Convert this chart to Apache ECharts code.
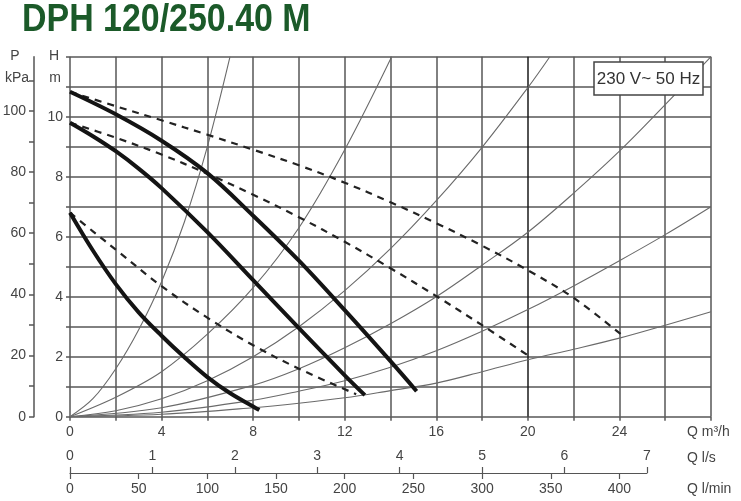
<!DOCTYPE html>
<html><head><meta charset="utf-8">
<script src="https://cdn.jsdelivr.net/npm/echarts@6.0.0/dist/echarts.min.js"></script>
<style>html,body{margin:0;padding:0;background:#fff}#c{width:741px;height:501px}</style>
</head><body><div id="c"></div>
<script>
// ---- pump curves (Q in m3/h, H in m) ----
const qSpeed3 = [0, 2, 4, 6, 8, 10, 12, 14, 15.14];
const hSpeed3 = [10.83, 10.08, 9.2, 8.12, 6.7, 5.2, 3.55, 1.85, 0.85];
const qSpeed2 = [0, 1, 2, 3, 4, 6, 8, 10, 12, 12.88];
const hSpeed2 = [9.8, 9.35, 8.85, 8.27, 7.62, 6.15, 4.55, 2.95, 1.38, 0.72];
const qSpeed1 = [0, 1, 2, 3, 4, 5, 6, 7, 8, 8.27];
const hSpeed1 = [6.8, 5.54, 4.42, 3.48, 2.7, 1.98, 1.32, 0.78, 0.34, 0.22];
// dashed curves
const qDash3 = [0, 2, 4, 6, 8, 10, 12, 14, 16, 18, 20, 22, 24.24];
const hDash3 = [10.83, 10.35, 9.88, 9.4, 8.9, 8.38, 7.8, 7.15, 6.45, 5.7, 4.88, 3.96, 2.64];
const qDash2 = [0, 2, 4, 6, 8, 10, 12, 14, 16, 18, 20.09];
const hDash2 = [9.8, 9.3, 8.74, 8.1, 7.4, 6.65, 5.83, 4.95, 4.02, 3.05, 2.0];
const qDash1 = [0, 1, 2, 4, 6, 8, 10, 12.5];
const hDash1 = [6.8, 6.18, 5.57, 4.35, 3.3, 2.38, 1.6, 0.75];
// system curves (thin)
const qSys1 = [0, 1, 2, 3, 4, 5, 6, 6.99];
const hSys1 = [0, 0.6, 1.6, 2.9, 4.5, 6.5, 9.0, 12];
const qSys2 = [0, 2, 4, 6, 8, 10, 12, 14.05];
const hSys2 = [0, 0.65, 1.5, 2.75, 4.3, 6.3, 8.9, 12];
const qSys3 = [0, 2, 4, 6, 8, 10, 12, 14, 16, 18, 20, 20.96];
const hSys3 = [0, 0.2, 0.6, 1.2, 2.0, 3.0, 4.2, 5.6, 7.2, 8.98, 10.97, 12];
const qSys4 = [0, 4, 8, 10, 12, 14, 16, 18, 20, 22, 24, 26, 28];
const hSys4 = [0, 0.3, 1.05, 1.6, 2.3, 3.1, 4.0, 5.05, 6.15, 7.45, 8.85, 10.4, 12];
const qSys5 = [0, 4, 8, 10, 12, 14, 16, 18, 20, 22, 24, 26, 28];
const hSys5 = [0, 0.15, 0.55, 0.85, 1.2, 1.65, 2.2, 2.85, 3.57, 4.36, 5.2, 6.07, 7.0];
const qSys6 = [0, 4, 8, 10, 12, 14, 16, 18, 20, 22, 24, 26, 28];
const hSys6 = [0, 0.08, 0.3, 0.45, 0.63, 0.87, 1.12, 1.5, 1.9, 2.25, 2.62, 3.05, 3.5];

// ---- tick labels ----
const qLabels = [0, 4, 8, 12, 16, 20, 24];
const hLabels = [0, 2, 4, 6, 8, 10];
const pLabels = [0, 20, 40, 60, 80, 100];
const lsLabels = [0, 1, 2, 3, 4, 5, 6, 7];
const lminLabels = [0, 50, 100, 150, 200, 250, 300, 350, 400];

const FONT = '"Liberation Sans", Arial, sans-serif';
const TXT = '#444';
const GRIDC = '#575757';
const pair = (q, h) => q.map((v, i) => [v, h[i]]);
const near = (arr, v) => arr.some(a => Math.abs(a - v) < 1e-6);

const xSplitColors = [];
for (let i = 0; i <= 14; i++) xSplitColors.push(i === 10 ? '#1a1a1a' : GRIDC);

function thin(q, h) {
  return { type: 'line', data: pair(q, h), showSymbol: false, smooth: 0.35, z: 2,
    lineStyle: { color: '#6a6a6a', width: 1.1 }, silent: true };
}
function dash(q, h) {
  return { type: 'line', data: pair(q, h), showSymbol: false, smooth: 0.35, z: 3,
    lineStyle: { color: '#222', width: 2.2, type: [7, 6] }, silent: true };
}
function thick(q, h) {
  return { type: 'line', data: pair(q, h), showSymbol: false, smooth: 0.35, z: 4,
    lineStyle: { color: '#141414', width: 4 }, silent: true };
}

const chart = echarts.init(document.getElementById('c'), null, { renderer: 'canvas' });
chart.setOption({
  animation: false,
  backgroundColor: '#fff',
  grid: [
    { left: 70, top: 56.7, width: 641, height: 360, outerBoundsMode: 'none', containLabel: false },
    { left: 70, top: 472, width: 576.9, height: 1, outerBoundsMode: 'none', containLabel: false }
  ],
  xAxis: [
    { type: 'value', gridIndex: 0, min: 0, max: 28, interval: 2,
      axisLine: { show: false },
      axisTick: { show: true, length: 4, lineStyle: { color: GRIDC, width: 1.5 } },
      axisLabel: { color: TXT, fontSize: 14, fontFamily: FONT, margin: 8,
        formatter: v => near(qLabels, v) ? String(v) : '' },
      splitLine: { show: true, lineStyle: { color: xSplitColors, width: 1.5 } } },
    { type: 'value', gridIndex: 1, position: 'top', min: 0, max: 7, interval: 1,
      axisLine: { show: false },
      axisTick: { show: true, length: 6, lineStyle: { color: '#555', width: 1.2 } },
      axisLabel: { color: TXT, fontSize: 14, fontFamily: FONT, margin: 9,
        formatter: v => near(lsLabels, v) ? String(v) : '' },
      splitLine: { show: false } },
    { type: 'value', gridIndex: 1, position: 'bottom', min: 0, max: 420, interval: 50,
      axisLine: { show: true, lineStyle: { color: '#555', width: 1.2 } },
      axisTick: { show: true, length: 6, lineStyle: { color: '#555', width: 1.2 } },
      axisLabel: { color: TXT, fontSize: 14, fontFamily: FONT, margin: 9, showMaxLabel: false,
        formatter: v => near(lminLabels, v) ? String(v) : '' },
      splitLine: { show: false } }
  ],
  yAxis: [
    { type: 'value', gridIndex: 0, min: 0, max: 12, interval: 1,
      axisLine: { show: false },
      axisTick: { show: true, length: 4, lineStyle: { color: GRIDC, width: 1.5 } },
      axisLabel: { color: TXT, fontSize: 14, fontFamily: FONT, margin: 7,
        formatter: v => near(hLabels, v) ? String(v) : '' },
      splitLine: { show: true, lineStyle: { color: GRIDC, width: 1.5 } } },
    { type: 'value', gridIndex: 0, position: 'left', offset: 36, min: 0, max: 117.72, interval: 10,
      axisLine: { show: true, onZero: false, lineStyle: { color: '#555', width: 1.5 } },
      axisTick: { show: true, length: 5, lineStyle: { color: '#555', width: 1.5 } },
      axisLabel: { color: TXT, fontSize: 14, fontFamily: FONT, margin: 8, showMaxLabel: false,
        formatter: v => near(pLabels, v) ? String(v) : '' },
      splitLine: { show: false } },
    { type: 'value', gridIndex: 1, min: 0, max: 1, show: false }
  ],
  series: [
    thin(qSys1, hSys1), thin(qSys2, hSys2), thin(qSys3, hSys3),
    thin(qSys4, hSys4), thin(qSys5, hSys5), thin(qSys6, hSys6),
    dash(qDash3, hDash3), dash(qDash2, hDash2), dash(qDash1, hDash1),
    thick(qSpeed3, hSpeed3), thick(qSpeed2, hSpeed2), thick(qSpeed1, hSpeed1)
  ],
  graphic: [
    { type: 'text', x: 22, y: 20, scaleX: 0.87, z: 10,
      style: { text: 'DPH 120/250.40 M', font: 'bold 39px "Liberation Sans", Arial, sans-serif',
        fill: '#1b5a29', verticalAlign: 'middle', align: 'left' } },
    { type: 'text', x: 15, y: 56, style: { text: 'P', font: '14px ' + FONT, fill: TXT, align: 'center', verticalAlign: 'middle' } },
    { type: 'text', x: 17, y: 78, style: { text: 'kPa', font: '14px ' + FONT, fill: TXT, align: 'center', verticalAlign: 'middle' } },
    { type: 'text', x: 54, y: 56, style: { text: 'H', font: '14px ' + FONT, fill: TXT, align: 'center', verticalAlign: 'middle' } },
    { type: 'text', x: 55, y: 78, style: { text: 'm', font: '14px ' + FONT, fill: TXT, align: 'center', verticalAlign: 'middle' } },
    { type: 'text', x: 687, y: 432, style: { text: 'Q m³/h', font: '14px ' + FONT, fill: TXT, align: 'left', verticalAlign: 'middle' } },
    { type: 'text', x: 687, y: 458, style: { text: 'Q l/s', font: '14px ' + FONT, fill: TXT, align: 'left', verticalAlign: 'middle' } },
    { type: 'text', x: 687, y: 489, style: { text: 'Q l/min', font: '14px ' + FONT, fill: TXT, align: 'left', verticalAlign: 'middle' } },
    { type: 'rect', shape: { x: 594, y: 62, width: 109, height: 33 }, z: 10,
      style: { fill: '#fff', stroke: '#444', lineWidth: 1.5 } },
    { type: 'text', x: 648.5, y: 79, z: 11,
      style: { text: '230 V~ 50 Hz', font: '17px ' + FONT, fill: '#333', align: 'center', verticalAlign: 'middle' } }
  ]
});
</script>
</body></html>
